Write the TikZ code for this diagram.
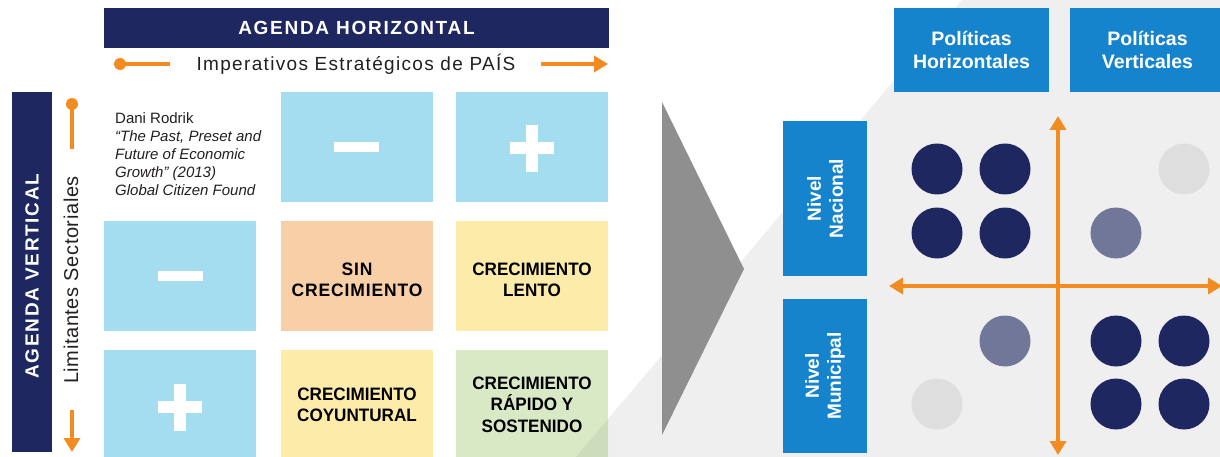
\documentclass[tikz,border=0pt]{standalone}
\usepackage{fontspec}
\setmainfont{Liberation Sans}
\newfontfamily\cond[FakeStretch=0.95]{Liberation Sans}
\newfontfamily\spaced[LetterSpace=9]{Liberation Sans}
\newfontfamily\spacedA[LetterSpace=7]{Liberation Sans}
\newfontfamily\spacedB[LetterSpace=3]{Liberation Sans}
\newfontfamily\spacedC[LetterSpace=5,FakeStretch=0.97]{Liberation Sans}
\usetikzlibrary{arrows.meta}
\definecolor{navy}{HTML}{1F2761}
\definecolor{ltblue}{HTML}{A4DCF0}
\definecolor{peach}{HTML}{F8CFA6}
\definecolor{pyellow}{HTML}{FDEBAA}
\definecolor{pgreen}{HTML}{D9E8C5}
\definecolor{orng}{HTML}{F28B20}
\definecolor{pblue}{HTML}{1683CD}
\definecolor{midc}{HTML}{717799}
\definecolor{lgc}{HTML}{DEDEDE}
\definecolor{bggray}{HTML}{EFEFEF}
\definecolor{chev}{HTML}{8F8F8F}
\definecolor{txt}{HTML}{231F20}
\tikzset{
  cell/.style={draw=none, inner sep=0pt, minimum width=152pt, minimum height=110pt},
  celltext/.style={inner sep=0pt, align=center, font=\cond\bfseries\fontsize{18}{21.5}\selectfont},
  bar/.style={fill=navy, inner sep=0pt, text=white},
  pbox/.style={fill=pblue, inner sep=0pt, text=white, align=center, font=\bfseries\fontsize{19.5}{23}\selectfont},
  dot/.style={circle, inner sep=0pt, minimum size=51pt},
  oline/.style={draw=orng, line width=4pt},
  axis/.style={draw=orng, line width=4pt, {Triangle[length=14pt,width=16pt]}-{Triangle[length=14pt,width=16pt]}},
  sign/.style={fill=white, draw=none}
}
\begin{document}
\begin{tikzpicture}[x=1pt,y=-1pt]
\useasboundingbox (0,0) rectangle (1220,457);
\fill[white] (0,0) rectangle (1220,457);
% background gray region
\fill[bggray] (962,0) -- (1220,0) -- (1220,457) -- (576,457) -- cycle;
% Agenda horizontal
\node[bar, minimum width=505pt, minimum height=40pt, font=\spaced\bfseries\fontsize{19}{20}\selectfont] (agh) at (356.5,28) {AGENDA HORIZONTAL};
\node[inner sep=0pt, text=txt, font=\spacedA\fontsize{19}{20}\selectfont] (imp) at (356,64) {Imperativos Estratégicos de PAÍS};
\node[circle, fill=orng, inner sep=0pt, minimum size=12pt] (hdot) at (120,64) {};
\coordinate (hend) at (170,64);
\draw[oline] (hdot.center) -- (hend);
\coordinate (harS) at (541,64);
\coordinate (harE) at (608,64);
\draw[oline, -{Triangle[length=14pt,width=16pt]}] (harS) -- (harE);
% Agenda vertical
\node[bar, minimum width=40pt, minimum height=360pt] (agv) at (32,272) {};
\node[rotate=90, text=white, font=\spaced\bfseries\fontsize{19}{20}\selectfont] (agvt) at (32,276) {AGENDA VERTICAL};
\node[rotate=90, inner sep=0pt, text=txt, font=\spacedB\fontsize{20}{22}\selectfont] (lim) at (71,280) {Limitantes Sectoriales};
\node[circle, fill=orng, inner sep=0pt, minimum size=12pt] (vdot) at (72,104) {};
\coordinate (vend) at (72,149);
\draw[oline] (vdot.center) -- (vend);
\coordinate (varS) at (72,410);
\coordinate (varE) at (72,452);
\draw[oline, -{Triangle[length=14pt,width=16pt]}] (varS) -- (varE);
% Rodrik text
\node[anchor=north west, inner sep=0pt, align=left, text=txt, font=\fontsize{15}{18}\selectfont] (rod) at (115,112) {Dani Rodrik\\ \textit{“The Past, Preset and}\\ \textit{Future of Economic}\\ \textit{Growth” (2013)}\\ \textit{Global Citizen Found}};
% Grid cells
\node[cell, fill=ltblue] (tm) at (357,147) {};
\node[cell, fill=ltblue] (tp) at (532,147) {};
\node[cell, fill=ltblue] (ml) at (180,276) {};
\node[cell, fill=peach] (mm) at (357,276) {};
\node[celltext, font=\spacedC\bfseries\fontsize{18}{21.5}\selectfont] (mmt) at (357,280) {SIN\\CRECIMIENTO};
\node[cell, fill=pyellow] (mr) at (532,276) {};
\node[celltext] (mrt) at (532,280) {CRECIMIENTO\\LENTO};
\node[cell, fill=ltblue, minimum height=107pt] (bl) at (180,403.5) {};
\node[cell, fill=pyellow, minimum height=107pt] (bm) at (357,403.5) {};
\node[celltext] (bmt) at (357,405) {CRECIMIENTO\\COYUNTURAL};
\node[cell, fill=pgreen, minimum height=107pt] (br) at (532,403.5) {};
\begin{scope}
\clip (br.north west) rectangle (br.south east);
\fill[black, opacity=0.05] (962,0) -- (1220,0) -- (1220,457) -- (576,457) -- cycle;
\end{scope}
\node[celltext] (brt) at (532,404.5) {CRECIMIENTO\\RÁPIDO Y\\SOSTENIDO};
% signs
\fill[sign] (334,142) rectangle (379,152);
\fill[sign] (158,271) rectangle (203,281);
\fill[sign] (510,142) rectangle (554,154);
\fill[sign] (526,125) rectangle (538,172);
\fill[sign] (158,401) rectangle (202,413);
\fill[sign] (174,384) rectangle (186,431);
% chevron
\fill[chev] (662,102) -- (744,269) -- (662,435) -- cycle;
% Politicas
\node[pbox, minimum width=155pt, minimum height=84pt] (ph) at (971.5,50) {Políticas\\Horizontales};
\node[pbox, minimum width=155pt, minimum height=84pt] (pv) at (1147.5,50) {Políticas\\Verticales};
\node[pbox, minimum width=84pt, minimum height=155pt] (nn) at (825,198.5) {};
\node[rotate=90, text=white, align=center, font=\bfseries\fontsize{19}{22}\selectfont] (nnt) at (nn.center) {Nivel\\Nacional};
\node[pbox, minimum width=84pt, minimum height=154pt] (nm) at (825,376) {};
\node[rotate=90, text=white, align=center, font=\bfseries\fontsize{19}{22}\selectfont] (nmt) at (nm.center) {Nivel\\Municipal};
% axes
\coordinate (vtop) at (1058,116);
\coordinate (vbot) at (1058,455);
\coordinate (hl) at (889,286);
\coordinate (hr) at (1222,286);
\draw[axis] (vtop) -- (vbot);
\draw[axis] (hl) -- (hr);
% circles
\node[dot, fill=navy] (c1) at (937,169) {};
\node[dot, fill=navy] (c2) at (1005,169) {};
\node[dot, fill=navy] (c3) at (937,233) {};
\node[dot, fill=navy] (c4) at (1005,233) {};
\node[dot, fill=lgc] (c5) at (1184,169) {};
\node[dot, fill=midc] (c6) at (1116,233) {};
\node[dot, fill=midc] (c7) at (1005,341) {};
\node[dot, fill=lgc] (c8) at (937,404) {};
\node[dot, fill=navy] (c9) at (1116,341) {};
\node[dot, fill=navy] (c10) at (1184,341) {};
\node[dot, fill=navy] (c11) at (1116,404) {};
\node[dot, fill=navy] (c12) at (1184,404) {};
\end{tikzpicture}
\end{document}
